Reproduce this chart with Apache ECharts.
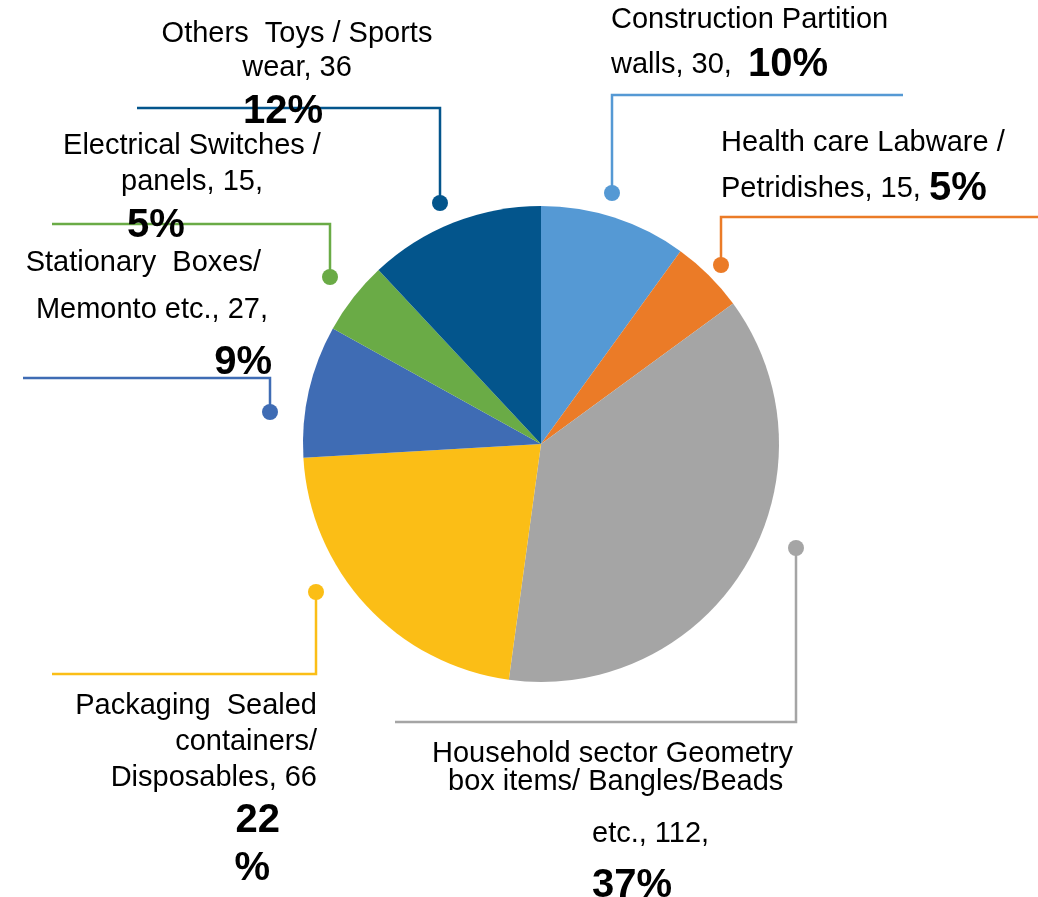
<!DOCTYPE html>
<html>
<head>
<meta charset="utf-8">
<script src="https://cdn.jsdelivr.net/npm/echarts@6/dist/echarts.min.js"></script>
<style>
html,body{margin:0;padding:0;background:#fff;}
#chart{width:1038px;height:897px;}
</style>
</head>
<body>
<div id="chart"></div>
<script>
// ---------- data ----------
const categories = [
  'Construction Partition walls',
  'Health care Labware / Petridishes',
  'Household sector Geometry box items/ Bangles/Beads etc.',
  'Packaging  Sealed containers/ Disposables',
  'Stationary  Boxes/ Memonto etc.',
  'Electrical Switches / panels',
  'Others  Toys / Sports wear'
];
const values = [30, 15, 112, 66, 27, 15, 36];

// label text as wrapped in the picture: {v}=value, {p}=percent, {pn}/{ps}=percent number / sign
const labelText = [
  ['Construction Partition', 'walls, {v},  {p}'],
  ['Health care Labware /', 'Petridishes, {v}, {p}'],
  ['Household sector Geometry', 'box items/ Bangles/Beads', 'etc., {v},', '{p}'],
  ['Packaging  Sealed', 'containers/', 'Disposables, {v}', '{pn}', '{ps}'],
  ['Stationary  Boxes/', 'Memonto etc., {v},', '{p}'],
  ['Electrical Switches /', 'panels, {v},', '{p}'],
  ['Others  Toys / Sports', 'wear, {v}', '{p}']
];

// ---------- styles / layout ----------
const colors = ['#5599D4', '#EB7B27', '#A5A5A5', '#FBBE16', '#3F6CB4', '#6AAB46', '#03558C'];
const FONT = '"Liberation Sans", Arial, Helvetica, sans-serif';

const labelBoxes = [
  {x: 611, y: 1.5, w: 300, lines: [{h: 36}, {h: 55}]},
  {x: 721, y: 124.5, w: 300, lines: [{h: 36}, {h: 57}]},
  {x: 432, y: 740.5, w: 360, lines: [{h: 27}, {h: 28, pad: 16}, {h: 76, pad: 160}, {h: 29, pad: 160}]},
  {x: 37, y: 688, w: 280, lines: [{h: 36, a: 'right'}, {h: 36, a: 'right'}, {h: 36, a: 'right'}, {h: 50, a: 'right', pad: 37}, {h: 46, a: 'right', pad: 47}]},
  {x: 12, y: 243, w: 260, lines: [{h: 40, a: 'right', pad: 11}, {h: 54, a: 'right', pad: 4}, {h: 52, a: 'right', pad: 0}]},
  {x: 62, y: 127.5, w: 260, lines: [{h: 36, a: 'center'}, {h: 37, a: 'center'}, {h: 51, a: 'left', pad: 65}]},
  {x: 157, y: 16, w: 280, lines: [{h: 36, a: 'center'}, {h: 32, a: 'center'}, {h: 56, a: 'left', pad: 86}]}
];

// leader lines: [dot, corner, end]
const leaderLines = [
  [[612, 193], [612, 95], [903, 95]],
  [[721, 265], [721, 217], [1038, 217]],
  [[796, 548], [796, 722], [395, 722]],
  [[316, 592], [316, 674], [52, 674]],
  [[270, 412], [270, 378], [23, 378]],
  [[330, 277], [330, 224], [52, 224]],
  [[440, 203], [440, 108], [137, 108]]
];

function buildLabel(i, value, pct) {
  return labelText[i].map(function (line, li) {
    const parts = line.split(/(\{p\}|\{pn\}|\{ps\})/).filter(function (s) { return s !== ''; });
    return parts.map(function (part) {
      let style = 'n' + li, txt;
      if (part === '{p}') { style = 'b' + li; txt = pct + '%'; }
      else if (part === '{pn}') { style = 'b' + li; txt = String(pct); }
      else if (part === '{ps}') { style = 'b' + li; txt = '%'; }
      else { txt = part.replace('{v}', value); }
      return '{' + style + '|' + txt + '}';
    }).join('');
  }).join('\n');
}

function richFor(i) {
  const r = {};
  labelBoxes[i].lines.forEach(function (ln, li) {
    const a = ln.a || 'left', p = ln.pad || 0;
    const padding = a === 'right' ? [0, p, 0, 0] : [0, 0, 0, p];
    r['n' + li] = {fontSize: 29, fontFamily: FONT, color: '#000', lineHeight: ln.h, align: a, padding: padding};
    r['b' + li] = {fontSize: 40, fontWeight: 'bold', fontFamily: FONT, color: '#000', lineHeight: ln.h, align: a, padding: padding};
  });
  return r;
}

const chart = echarts.init(document.getElementById('chart'), null, {renderer: 'canvas'});
chart.setOption({
  animation: false,
  backgroundColor: '#fff',
  series: [{
    type: 'pie',
    center: [541, 444],
    radius: 238,
    startAngle: 90,
    clockwise: true,
    avoidLabelOverlap: false,
    silent: true,
    emphasis: {disabled: true},
    itemStyle: {borderWidth: 0},
    label: {
      show: true,
      position: 'outside',
      overflow: 'none',
      formatter: function (p) { return buildLabel(p.dataIndex, p.value, Math.round(p.percent)); }
    },
    labelLine: {show: true, length: 10, length2: 10, smooth: false, lineStyle: {width: 2.5}},
    labelLayout: function (params) {
      const b = labelBoxes[params.dataIndex];
      return {
        x: b.x, y: b.y, align: 'left', verticalAlign: 'top',
        labelLinePoints: leaderLines[params.dataIndex].map(function (pt) { return pt.slice(); })
      };
    },
    data: categories.map(function (name, i) {
      return {
        name: name,
        value: values[i],
        itemStyle: {color: colors[i]},
        label: {width: labelBoxes[i].w, rich: richFor(i)},
        labelLine: {lineStyle: {color: colors[i], width: 2.5}}
      };
    })
  }],
  graphic: leaderLines.map(function (pts, i) {
    return {type: 'circle', silent: true, z: 100, shape: {cx: pts[0][0], cy: pts[0][1], r: 8}, style: {fill: colors[i]}};
  })
});
</script>
</body>
</html>
